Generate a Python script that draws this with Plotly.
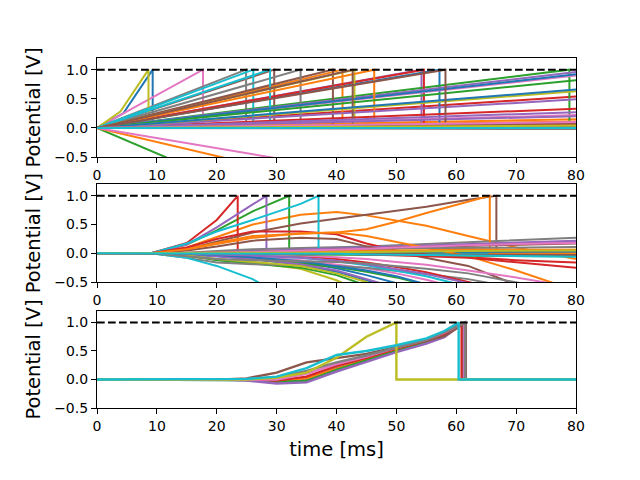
import plotly.graph_objects as go
from plotly.subplots import make_subplots

# matplotlib default colour cycle, neuron i gets colour i % 10
cycle = ["#1f77b4", "#ff7f0e", "#2ca02c", "#d62728", "#9467bd",
         "#8c564b", "#e377c2", "#7f7f7f", "#bcbd22", "#17becf"]

t_end = 80
threshold = 1.0

# ---- panel 1: straight ramps from t=0 -------------------------------------
# firing time [ms] (None = never fires)
p1_spikes = [9.3, None, None, None, 54.2, 29.6, 17.7, 24.9, 8.6, 26.1,
             57.2, 41.0, 78.9, 54.6, None, 39.4, None, 34.0, 43.0, 28.9,
             None, 46.3, None, None, None, 42.7, None, None, None, None,
             None, None, None, None, None, 58.2, None, None, None, None,
             None, None, None, None, None, None, None, None, None, None]
# potential reached at 80 ms for neurons that never fire
p1_ends = [None, 0.15, -3.5, 0.54, None, None, None, None, None, None,
           None, None, None, None, 0.96, None, 0.90, None, None, None,
           0.92, None, 0.82, 0.33, 0.49, None, 0.22, -0.02, 0.63, 0.0,
           0.66, -1.93, 0.01, 0.05, 0.20, None, -1.39, 0.0, 0.01, 0.0,
           0.03, 0.11, 0.0, 0.07, 0.27, 0.08, 0.10, 0.02, 0.04, 0.0]
# the two early spikers bend at (t, v)
p1_bends = {0: (4.4, 0.25), 8: (3.9, 0.28)}

# ---- panel 2: input arrives at 9 ms ----------------------------------------
p2_times = [9, 15, 20, 26, 34, 40, 45, 50, 55, 62, 70, 80]
p2_values = [
    [0, -0.02, -0.05, -0.1, -0.2, -0.32, -0.47, -0.65, -0.85, -1.1, -1.4, -1.8],
    [0, 0.1, 0.28, 0.5, 0.67, 0.72, 0.66, 0.57, 0.48, 0.3, 0.1, -0.1],
    [0, 0.15, 0.4, 0.73],
    [0, 0.18, 0.58],
    [0, 0.15, 0.45, 0.85],
    [0, 0.07, 0.2, 0.36, 0.52, 0.6, 0.67, 0.74, 0.81, 0.93],
    [0, 0.0, 0.01, 0.03, 0.05, 0.07, 0.09, 0.11, 0.13, 0.15, 0.18, 0.2],
    [0, 0.01, 0.04, 0.07, 0.09, 0.1, 0.12, 0.14, 0.16, 0.19, 0.23, 0.27],
    [0, -0.05, -0.1, -0.16, -0.27, -0.47, -0.7, -0.95, -1.2, -1.6, -2.0, -2.5],
    [0, 0.17, 0.38, 0.58, 0.86],

    [0, -0.02, -0.04, -0.08, -0.15, -0.26, -0.38, -0.52, -0.7, -0.95, -1.25, -1.6],
    [0, 0.08, 0.18, 0.3, 0.34, 0.36, 0.42, 0.55, 0.7, 0.9],
    [0, -0.04, -0.12, -0.18, -0.25, -0.38, -0.56, -0.8, -1.05, -1.4, -1.8, -2.3],
    [0, 0.1, 0.25, 0.38, 0.38, 0.33, 0.17, 0.05, -0.02, -0.07, -0.12, -0.16],
    [0, 0.0, 0.02, 0.04, 0.06, 0.08, 0.1, 0.12, 0.14, 0.16, 0.19, 0.22],
    [0, 0.05, 0.12, 0.22, 0.27, 0.25, 0.12, 0.02, -0.08, -0.22, -0.55, -0.9],
    [0, -0.01, -0.03, -0.06, -0.12, -0.19, -0.26, -0.35, -0.46, -0.65, -0.9, -1.2],
    [0, -0.08, -0.16, -0.19, -0.2, -0.22, -0.25, -0.3, -0.36, -0.45, -0.6, -0.8],
    [0, 0.0, 0.01, 0.01, 0.02, 0.02, 0.03, 0.03, 0.04, 0.04, 0.05, 0.06],
    [0, -0.08, -0.22, -0.45, -0.95, -1.3, -1.6, -1.9, -2.2, -2.6, -3.1, -3.7],

    [0, 0.0, 0.0, 0.01, 0.01, 0.01, 0.01, 0.02, 0.02, 0.02, 0.02, 0.03],
    [0, 0.07, 0.16, 0.27, 0.35, 0.36, 0.3, 0.2, 0.1, -0.05, -0.3, -0.65],
    [0, -0.01, -0.04, -0.1, -0.17, -0.24, -0.32, -0.42, -0.55, -0.75, -1.0, -1.3],
    [0, 0.0, -0.01, -0.02, -0.05, -0.1, -0.16, -0.24, -0.33, -0.5, -0.7, -0.95],
    [0, -0.02, -0.05, -0.1, -0.19, -0.3, -0.44, -0.6, -0.8, -1.05, -1.35, -1.7],
    [0, 0.0, 0.01, 0.02, 0.04, 0.06, 0.08, 0.1, 0.11, 0.13, 0.15, 0.17],
    [0, 0.0, -0.01, -0.02, -0.04, -0.07, -0.1, -0.15, -0.2, -0.3, -0.42, -0.6],
    [0, 0.0, 0.01, 0.03, 0.05, 0.06, 0.07, 0.08, 0.09, 0.09, 0.1, 0.11],
    [0, -0.04, -0.1, -0.15, -0.22, -0.35, -0.5, -0.68, -0.9, -1.2, -1.5, -1.9],
    [0, -0.01, -0.02, -0.04, -0.08, -0.14, -0.21, -0.3, -0.4, -0.58, -0.8, -1.1],

    [0, -0.01, -0.03, -0.07, -0.14, -0.22, -0.3, -0.4, -0.53, -0.72, -0.95, -1.25],
    [0, 0.0, 0.01, 0.02, 0.03, 0.04, 0.04, 0.05, 0.05, 0.06, 0.06, 0.06],
    [0, 0.0, -0.01, -0.01, -0.02, -0.02, -0.03, -0.03, -0.04, -0.04, -0.05, -0.05],
    [0, 0.0, 0.0, 0.0, 0.0, -0.01, -0.02, -0.03, -0.05, -0.08, -0.15, -0.25],
    [0, -0.01, -0.02, -0.04, -0.08, -0.13, -0.19, -0.27, -0.36, -0.52, -0.75, -1.0],
    [0, 0.0, 0.0, 0.0, 0.0, -0.01, -0.01, -0.01, -0.02, -0.02, -0.02, -0.03],
    [0, 0.0, 0.01, 0.02, 0.04, 0.06, 0.08, 0.1, 0.12, 0.14, 0.16, 0.18],
    [0, -0.05, -0.1, -0.12, -0.13, -0.15, -0.18, -0.22, -0.27, -0.35, -0.5, -0.7],
    [0, 0.0, 0.0, 0.01, 0.01, 0.02, 0.02, 0.03, 0.03, 0.04, 0.04, 0.05],
    [0, 0.0, 0.0, 0.0, -0.01, -0.01, -0.02, -0.02, -0.03, -0.04, -0.05, -0.06],
]
p2_spikes = [None, None, 32.1, 23.5, 28.3, 66.7, None, None, None, 37.0,
             None, 65.6, None, None, None, None, None, None, None, None,
             None, None, None, None, None, None, None, None, None, None,
             None, None, None, None, None, None, None, None, None, None]

# ---- panel 3: input arrives at 21 ms ---------------------------------------
p3_times = [21, 25, 30, 35, 40, 45, 50, 55, 58]
p3_values = [
    [0, -0.01, -0.03, 0.0, 0.2, 0.37, 0.53, 0.68, 0.8],
    [0, 0.0, -0.02, 0.02, 0.19, 0.35, 0.51, 0.65, 0.75],
    [0, -0.01, -0.04, -0.03, 0.17, 0.34, 0.5, 0.64, 0.76],
    [0, 0.0, -0.02, 0.05, 0.24, 0.38, 0.54, 0.68, 0.8],
    [0, -0.02, -0.07, -0.05, 0.14, 0.31, 0.48, 0.63, 0.74],
    [0, 0.02, 0.12, 0.3, 0.38, 0.45, 0.57, 0.68, 0.76],
    [0, 0.0, 0.0, 0.1, 0.27, 0.4, 0.56, 0.7, 0.82],
    [0, 0.01, 0.04, 0.15, 0.3, 0.42, 0.56, 0.7, 0.83],
    [0, 0.0, 0.03, 0.12, 0.38, 0.75],
    [0, 0.01, 0.05, 0.2, 0.43, 0.5, 0.6, 0.72, 0.85],
]
p3_spikes = [61.0, 61.2, 61.0, 60.9, 61.3, 61.6, 61.4, 61.5, 50.0, 60.4]


def trace_xy(times, vals, spike, end=None):
    x = [0] + list(times[:len(vals)])
    y = [0] + list(vals)
    if spike is not None:
        x += [spike, spike, t_end]
        y += [threshold, 0, 0]
    elif end is not None:
        x.append(t_end)
        y.append(end)
    return x, y


fig = make_subplots(rows=3, cols=1)

for i in range(len(p1_spikes)):
    bend = p1_bends.get(i)
    times = [bend[0]] if bend else []
    vals = [bend[1]] if bend else []
    x, y = trace_xy(times, vals, p1_spikes[i], p1_ends[i])
    fig.add_trace(go.Scatter(x=x, y=y, mode="lines",
                             line=dict(color=cycle[i % 10], width=2)), row=1, col=1)

for i, vals in enumerate(p2_values):
    x, y = trace_xy(p2_times, vals, p2_spikes[i])
    fig.add_trace(go.Scatter(x=x, y=y, mode="lines",
                             line=dict(color=cycle[i % 10], width=2)), row=2, col=1)

for i, vals in enumerate(p3_values):
    x, y = trace_xy(p3_times, vals, p3_spikes[i])
    fig.add_trace(go.Scatter(x=x, y=y, mode="lines",
                             line=dict(color=cycle[i % 10], width=2.4)), row=3, col=1)

for r in (1, 2, 3):
    fig.add_trace(go.Scatter(x=[0, t_end], y=[threshold, threshold], mode="lines",
                             line=dict(color="black", width=2, dash="7.7px,3.3px")),
                  row=r, col=1)

domains = {1: [0.717, 1.0], 2: [0.36, 0.639], 3: [0.0, 0.277]}
axis_style = dict(showline=True, mirror=True, linecolor="black", linewidth=1.1,
                  ticks="outside", ticklen=5, tickwidth=1.1, tickcolor="black",
                  showgrid=False, zeroline=False, automargin=False,
                  tickfont=dict(family="DejaVu Sans", size=14, color="black"))
for r in (1, 2, 3):
    fig.update_xaxes(range=[0, t_end], tickvals=list(range(0, 81, 10)),
                     row=r, col=1, **axis_style)
    fig.update_yaxes(range=[-0.5, 1.2], tickvals=[-0.5, 0, 0.5, 1.0],
                     ticktext=["\u22120.5", "0.0", "0.5", "1.0"],
                     domain=domains[r],
                     title=dict(text="Potential [V]", standoff=8,
                                font=dict(family="DejaVu Sans", size=19.5, color="black")),
                     row=r, col=1, **axis_style)
fig.update_xaxes(title=dict(text="time [ms]", standoff=9,
                            font=dict(family="DejaVu Sans", size=19.5, color="black")),
                 row=3, col=1)

# the page adds an 8px body margin, so the plot box is shifted back by that
fig.update_layout(width=640, height=480, showlegend=False,
                  margin=dict(l=89, r=72, t=50, b=80),
                  paper_bgcolor="white", plot_bgcolor="white")

fig.write_html("out.html")
